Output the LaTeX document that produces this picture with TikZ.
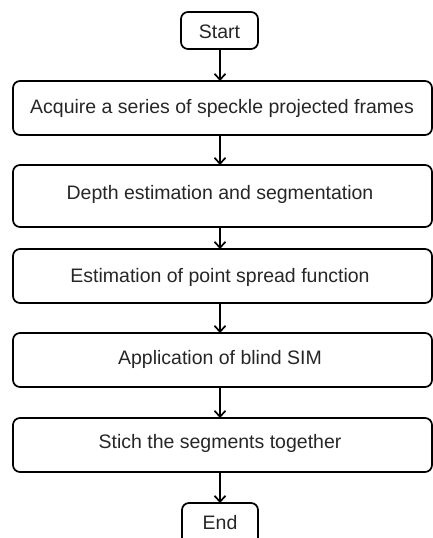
\documentclass[tikz,border=0pt]{standalone}
\usepackage{fontspec}
\setmainfont{Liberation Sans}
\usetikzlibrary{arrows.meta}
\begin{document}
\begin{tikzpicture}[x=1pt,y=-1pt,
  box/.style={draw, line width=1.7pt, rounded corners=7pt},
  lbl/.style={font=\fontsize{19.5}{21}\selectfont, text=black!85, inner sep=0pt},
  flow/.style={line width=1.7pt, -{Straight Barb[length=6pt,width=11pt,line width=1.7pt]}}]
  \useasboundingbox (0,0) rectangle (433,538);
  % terminal boxes
  \draw[box] (181,12) rectangle (258,49);
  \node[lbl] (start) at (219.5,32) {Start};
  \coordinate (startB) at (220,49);
  \draw[box] (182,503) rectangle (258,545);
  \node[lbl] (endn) at (220,523) {End};
  \coordinate (endT) at (220,503);
  % process boxes
  \draw[box] (13,81) rectangle (432,135);
  \node[lbl] (s1) at (222,108) {Acquire a series of speckle projected frames};
  \draw[box] (13,165) rectangle (432,227);
  \node[lbl] (s2) at (220,194) {Depth estimation and segmentation};
  \draw[box] (13,249) rectangle (432,303);
  \node[lbl] (s3) at (220,277) {Estimation of point spread function};
  \draw[box] (13,333) rectangle (432,387);
  \node[lbl] (s4) at (220,359) {Application of blind SIM};
  \draw[box] (13,418) rectangle (432,472);
  \node[lbl] (s5) at (220,443) {Stich the segments together};
  % anchors on box edges
  \coordinate (b1t) at (220,81);  \coordinate (b1b) at (220,135);
  \coordinate (b2t) at (220,165); \coordinate (b2b) at (220,227);
  \coordinate (b3t) at (220,249); \coordinate (b3b) at (220,303);
  \coordinate (b4t) at (220,333); \coordinate (b4b) at (220,387);
  \coordinate (b5t) at (220,418); \coordinate (b5b) at (220,472);
  % connectors
  \draw[flow] (startB) -- (b1t);
  \draw[flow] (b1b) -- (b2t);
  \draw[flow] (b2b) -- (b3t);
  \draw[flow] (b3b) -- (b4t);
  \draw[flow] (b4b) -- (b5t);
  \draw[flow] (b5b) -- (endT);
\end{tikzpicture}
\end{document}
